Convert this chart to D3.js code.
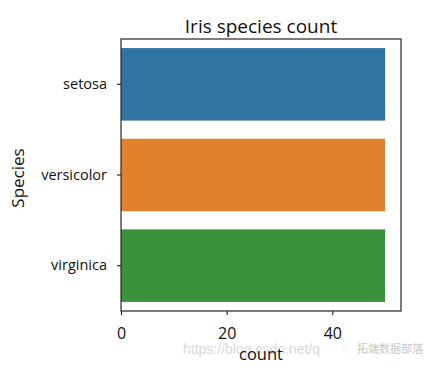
<!DOCTYPE html>
<html>
<head>
<meta charset="utf-8">
<script src="https://cdn.jsdelivr.net/npm/d3@7"></script>
<style>
  body { margin: 0; background: #fff; }
  text { font-family: "Open Sans", "Noto Sans", sans-serif; }
</style>
</head>
<body>
<div id="chart"></div>
<script>
//=====================================================
var species = ["setosa", "versicolor", "virginica"];
var counts = [50, 50, 50];
var barColors = ["#3274a1", "#e1812c", "#3a923a"];
var xTicks = [0, 20, 40];

//=====================================================
var width = 432, height = 368;
var plotLeft = 121, plotRight = 401, plotTop = 39, plotBottom = 311;

var svg = d3.select("#chart").append("svg")
  .attr("width", width)
  .attr("height", height);

var x = d3.scaleLinear().domain([0, 53]).range([plotLeft, plotRight]);
var y = d3.scaleBand().domain(species).range([plotTop, plotBottom]).paddingInner(0.2).paddingOuter(0.1);

// bars
svg.append("g").selectAll("rect")
  .data(species)
  .enter()
  .append("rect")
  .attr("x", x(0))
  .attr("y", function(d) { return y(d); })
  .attr("width", function(d, i) { return x(counts[i]) - x(0); })
  .attr("height", y.bandwidth())
  .attr("fill", function(d, i) { return barColors[i]; });

// frame
svg.append("rect")
  .attr("x", plotLeft).attr("y", plotTop)
  .attr("width", plotRight - plotLeft).attr("height", plotBottom - plotTop)
  .attr("fill", "none")
  .attr("stroke", "#262626")
  .attr("stroke-width", 1.2);

// axes
var xAxis = svg.append("g")
  .attr("transform", "translate(0," + plotBottom + ")")
  .call(d3.axisBottom(x).tickValues(xTicks).tickSize(4).tickPadding(13));
xAxis.select(".domain").remove();
xAxis.selectAll("text").attr("font-size", 16).attr("fill", "#111");
xAxis.selectAll("line").attr("stroke", "#262626").attr("stroke-width", 1.2);

var yAxis = svg.append("g")
  .attr("transform", "translate(" + plotLeft + ",0)")
  .call(d3.axisLeft(y).tickSize(4).tickPadding(10));
yAxis.select(".domain").remove();
yAxis.selectAll("text").attr("font-size", 14.5).attr("fill", "#111");
yAxis.selectAll("line").attr("stroke", "#262626").attr("stroke-width", 1.2);

// watermark
svg.append("text")
  .attr("x", 183).attr("y", 354)
  .attr("font-size", 14)
  .attr("fill", "#d8d8d8")
  .style("font-family", "Liberation Sans, Arial, sans-serif")
  .text("https://blog.csdn.net/q");
svg.append("text")
  .attr("x", 342).attr("y", 353)
  .attr("font-size", 12)
  .attr("fill", "#cfcfcf")
  .text("◌");
svg.append("text")
  .attr("x", 357).attr("y", 353)
  .attr("font-size", 11)
  .attr("fill", "#c8c8c8")
  .style("font-family", "Noto Sans CJK SC, sans-serif")
  .text("拓端数据部落");

// labels
svg.append("text")
  .attr("x", (plotLeft + plotRight) / 2).attr("y", 33)
  .attr("text-anchor", "middle")
  .attr("font-size", 19)
  .attr("fill", "#111")
  .text("Iris species count");

svg.append("text")
  .attr("x", (plotLeft + plotRight) / 2).attr("y", 360)
  .attr("text-anchor", "middle")
  .attr("font-size", 16.5)
  .attr("fill", "#111")
  .text("count");

svg.append("text")
  .attr("transform", "translate(24," + ((plotTop + plotBottom) / 2 + 3) + ") rotate(-90)")
  .attr("text-anchor", "middle")
  .attr("font-size", 17)
  .attr("fill", "#111")
  .text("Species");
</script>
</body>
</html>
